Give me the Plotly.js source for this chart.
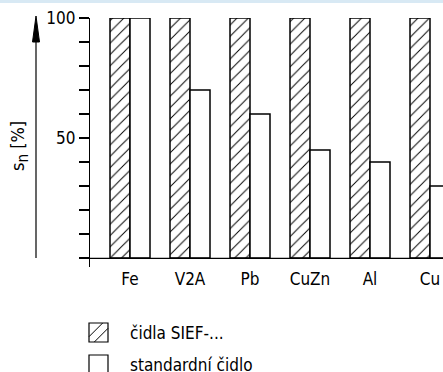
<!DOCTYPE html>
<html>
<head>
<meta charset="utf-8">
<script src="https://cdn.plot.ly/plotly-3.0.1.min.js"></script>
<style>html,body{margin:0;padding:0;background:#fff;}#chart{width:443px;height:372px;}</style>
</head>
<body>
<div id="chart"></div>
<script>
// ---- data ----
const categories = ["Fe", "V2A", "Pb", "CuZn", "Al", "Cu"];
const siefValues = [100, 100, 100, 100, 100, 100];
const standardValues = [100, 70, 60, 45, 40, 30];
const seriesNames = ["čidla SIEF-...", "standardní čidlo"];
const yTickVals = [0, 10, 20, 30, 40, 50, 60, 70, 80, 90, 100];
const yTickText = ["", "", "", "", "", "50", "", "", "", "", "100"];
const yTitle = "s<sub><span style=\"font-size:15px\">n</span></sub> [%]";

// ---- layout geometry (pixels) ----
const FONT = "'Liberation Sans Narrow', 'DejaVu Sans Condensed', 'Liberation Sans', sans-serif";
const L = 90, R = 443, T = 18, B = 267;
const W = R - L, H = B - T;
const px = x => (x - L) / W;
const py = y => (B - y) / H;

const traces = [
  {
    type: "bar", name: seriesNames[0], x: categories, y: siefValues,
    marker: {color: "#ffffff", line: {color: "#000", width: 1.5},
      pattern: {shape: "/", fgcolor: "#000", bgcolor: "#fff", size: 8, solidity: 0.12}}
  },
  {
    type: "bar", name: seriesNames[1], x: categories, y: standardValues,
    marker: {color: "#ffffff", line: {color: "#000", width: 1.5}}
  }
];

// manual legend (larger key boxes like the reference)
const keyX = 89, keyS = 19, keyY = [323, 355], keyTextX = 128;
const legendShapes = [];
const legendNotes = [];
keyY.forEach((y0, i) => {
  legendShapes.push({type: "rect", xref: "paper", yref: "paper",
    x0: px(keyX), x1: px(keyX + keyS), y0: py(y0 + keyS), y1: py(y0),
    fillcolor: "#fff", line: {color: "#000", width: 1.2}});
  if (i === 0) {
    legendShapes.push({type: "line", xref: "paper", yref: "paper",
      x0: px(keyX), y0: py(y0 + 0.72 * keyS), x1: px(keyX + 0.72 * keyS), y1: py(y0),
      line: {color: "#000", width: 1}});
    legendShapes.push({type: "line", xref: "paper", yref: "paper",
      x0: px(keyX + 0.28 * keyS), y0: py(y0 + keyS), x1: px(keyX + keyS), y1: py(y0 + 0.28 * keyS),
      line: {color: "#000", width: 1}});
  }
  legendNotes.push({text: seriesNames[i], xref: "paper", yref: "paper",
    x: px(keyTextX), y: py(y0 + keyS / 2), xanchor: "left", yanchor: "middle", showarrow: false,
    font: {family: FONT, size: 17, color: "#000"}});
});

const layout = {
  width: 443, height: 372,
  margin: {l: L, r: 443 - R, t: T, b: 372 - B, pad: 0, autoexpand: false},
  paper_bgcolor: "#fff", plot_bgcolor: "rgba(0,0,0,0)",
  font: {family: FONT, size: 17, color: "#000"},
  barmode: "group", bargap: 1/3, bargroupgap: 0,
  showlegend: false,
  xaxis: {
    type: "category", range: [-40/60, (R - 130)/60],
    showline: false, showgrid: false, zeroline: false, ticks: "",
    tickfont: {family: FONT, size: 17}, fixedrange: true
  },
  yaxis: {
    range: [-3.75, 100], showgrid: false, zeroline: false,
    showline: true, linecolor: "#000", linewidth: 1.2,
    ticks: "outside", ticklen: 10, tickwidth: 1.2, tickcolor: "#000",
    tickvals: yTickVals, ticktext: yTickText,
    tickfont: {family: FONT, size: 17}, fixedrange: true
  },
  shapes: [
    // top tinted band
    {type: "rect", xref: "paper", yref: "paper", x0: px(0), x1: px(443), y0: py(3), y1: py(0),
      fillcolor: "#d8e9f4", line: {width: 0}},
    // x-axis baseline extending left of the y axis
    {type: "line", xref: "paper", yref: "paper", x0: px(80), x1: px(443), y0: py(258.4), y1: py(258.4),
      line: {color: "#000", width: 1.2}},
    // vertical arrow for y title
    {type: "line", xref: "paper", yref: "paper", x0: px(36), x1: px(36), y0: py(258), y1: py(38),
      line: {color: "#000", width: 1.2}},
    {type: "path", xref: "paper", yref: "paper",
      path: `M ${px(36)} ${py(16)} L ${px(32.5)} ${py(42)} L ${px(39.5)} ${py(42)} Z`,
      fillcolor: "#000", line: {color: "#000", width: 1}}
  ].concat(legendShapes),
  annotations: [
    {text: yTitle, xref: "paper", yref: "paper", x: px(19), y: py(146), textangle: -90,
      showarrow: false, font: {family: FONT, size: 18, color: "#000"}, xanchor: "center", yanchor: "middle"}
  ].concat(legendNotes)
};

Plotly.newPlot("chart", traces, layout, {staticPlot: true, displayModeBar: false});
</script>
</body>
</html>
